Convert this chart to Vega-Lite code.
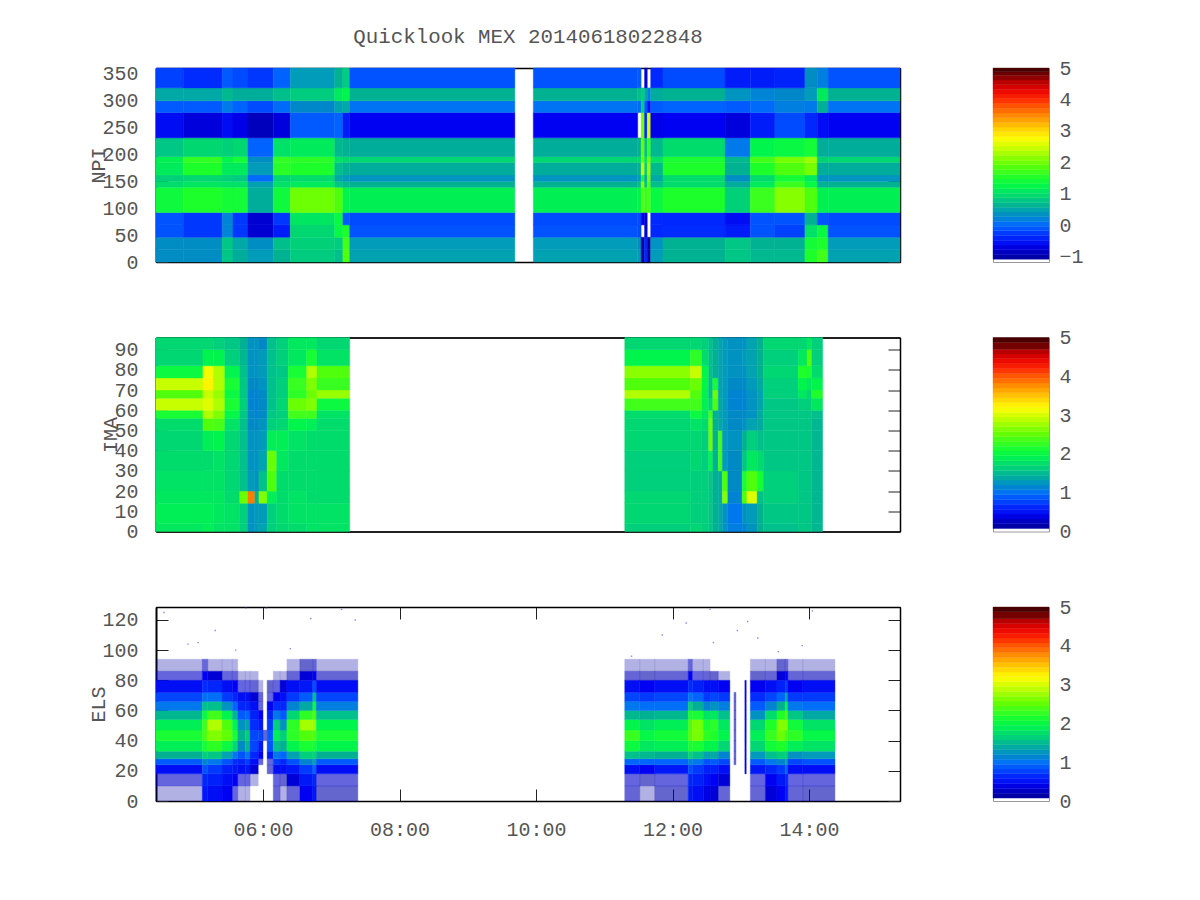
{"$schema":"https://vega.github.io/schema/vega-lite/v6.json","background":"white","padding":{"left":87,"top":25,"right":20,"bottom":20},"bounds":"flush","columns":2,"spacing":{"row":75.5,"column":93},"resolve":{"scale":{"color":"independent","stroke":"independent"}},
"config":{"view":{"stroke":"#000","strokeWidth":1},"font":"Liberation Mono","axis":{"grid":false,"labelFont":"Liberation Mono","titleFont":"Liberation Mono","labelFontSize":20,"titleFontSize":20,"titleFontWeight":"normal","labelColor":"#555","titleColor":"#555","domainColor":"#000","domainWidth":1.5,"tickColor":"#222","tickWidth":1,"tickSize":-12,"labelPadding":30,"zindex":1,"labelOverlap":false,"labelFlush":false},"title":{"font":"Liberation Mono","fontSize":20.8,"fontWeight":"normal","color":"#555"}},
"datasets":{
"npiC":[{"c":0,"t0":4.432,"t1":4.83},{"c":1,"t0":4.83,"t1":5.4},{"c":2,"t0":5.4,"t1":5.56},{"c":3,"t0":5.56,"t1":5.78},{"c":4,"t0":5.78,"t1":6.15},{"c":5,"t0":6.15,"t1":6.4},{"c":6,"t0":6.4,"t1":7.05},{"c":7,"t0":7.05,"t1":7.17},{"c":8,"t0":7.17,"t1":7.27},{"c":9,"t0":7.27,"t1":9.69},{"c":10,"t0":9.96,"t1":11.49},{"c":11,"t0":11.49,"t1":11.54},{"c":12,"t0":11.54,"t1":11.59},{"c":13,"t0":11.59,"t1":11.63},{"c":14,"t0":11.63,"t1":11.68},{"c":15,"t0":11.68,"t1":11.86},{"c":16,"t0":11.86,"t1":12.77},{"c":17,"t0":12.77,"t1":13.14},{"c":18,"t0":13.14,"t1":13.5},{"c":19,"t0":13.5,"t1":13.94},{"c":20,"t0":13.94,"t1":14.12},{"c":21,"t0":14.12,"t1":14.28},{"c":22,"t0":14.28,"t1":15.333}],
"npiB":[{"b":0,"y0":0,"y1":23},{"b":1,"y0":23,"y1":46},{"b":2,"y0":46,"y1":69},{"b":3,"y0":69,"y1":92},{"b":4,"y0":92,"y1":139},{"b":5,"y0":139,"y1":150},{"b":6,"y0":150,"y1":162},{"b":7,"y0":162,"y1":185},{"b":8,"y0":185,"y1":196},{"b":9,"y0":196,"y1":231},{"b":10,"y0":231,"y1":278},{"b":11,"y0":278,"y1":300},{"b":12,"y0":300,"y1":324},{"b":13,"y0":324,"y1":361}],
"npi":[
{"c":0,"b":0,"v":0.4},{"c":0,"b":1,"v":0.4},{"c":0,"b":2,"v":-0.05},{"c":0,"b":3,"v":-0.05},{"c":0,"b":4,"v":1.45},{"c":0,"b":5,"v":1.05},{"c":0,"b":6,"v":0.95},{"c":0,"b":7,"v":1.2},{"c":0,"b":8,"v":1.25},{"c":0,"b":9,"v":0.85},{"c":0,"b":10,"v":-0.5},{"c":0,"b":11,"v":0},{"c":0,"b":12,"v":0.6},{"c":0,"b":13,"v":-0.15},
{"c":1,"b":0,"v":0.4},{"c":1,"b":1,"v":0.4},{"c":1,"b":2,"v":-0.2},{"c":1,"b":3,"v":-0.2},{"c":1,"b":4,"v":1.6},{"c":1,"b":5,"v":1.15},{"c":1,"b":6,"v":1},{"c":1,"b":7,"v":1.6},{"c":1,"b":8,"v":1.7},{"c":1,"b":9,"v":1},{"c":1,"b":10,"v":-0.65},{"c":1,"b":11,"v":0},{"c":1,"b":12,"v":0.6},{"c":1,"b":13,"v":-0.25},
{"c":2,"b":0,"v":0.85},{"c":2,"b":1,"v":0.85},{"c":2,"b":2,"v":0.3},{"c":2,"b":3,"v":0.3},{"c":2,"b":4,"v":1.5},{"c":2,"b":5,"v":1.1},{"c":2,"b":6,"v":0.95},{"c":2,"b":7,"v":1.2},{"c":2,"b":8,"v":1.3},{"c":2,"b":9,"v":0.95},{"c":2,"b":10,"v":-0.5},{"c":2,"b":11,"v":0.2},{"c":2,"b":12,"v":0.75},{"c":2,"b":13,"v":0},
{"c":3,"b":0,"v":0.65},{"c":3,"b":1,"v":0.6},{"c":3,"b":2,"v":-0.2},{"c":3,"b":3,"v":-0.2},{"c":3,"b":4,"v":1.5},{"c":3,"b":5,"v":1.1},{"c":3,"b":6,"v":0.9},{"c":3,"b":7,"v":1.2},{"c":3,"b":8,"v":1.5},{"c":3,"b":9,"v":1},{"c":3,"b":10,"v":-0.6},{"c":3,"b":11,"v":0.05},{"c":3,"b":12,"v":0.65},{"c":3,"b":13,"v":-0.1},
{"c":4,"b":0,"v":0.5},{"c":4,"b":1,"v":0.4},{"c":4,"b":2,"v":-0.7},{"c":4,"b":3,"v":-0.7},{"c":4,"b":4,"v":0.65},{"c":4,"b":5,"v":0.55},{"c":4,"b":6,"v":0.1},{"c":4,"b":7,"v":0.5},{"c":4,"b":8,"v":0.4},{"c":4,"b":9,"v":0.05},{"c":4,"b":10,"v":-0.8},{"c":4,"b":11,"v":-0.1},{"c":4,"b":12,"v":0.65},{"c":4,"b":13,"v":-0.2},
{"c":5,"b":0,"v":0.7},{"c":5,"b":1,"v":0.8},{"c":5,"b":2,"v":-0.4},{"c":5,"b":3,"v":-0.2},{"c":5,"b":4,"v":1.45},{"c":5,"b":5,"v":1.1},{"c":5,"b":6,"v":1},{"c":5,"b":7,"v":1.65},{"c":5,"b":8,"v":1.7},{"c":5,"b":9,"v":1.1},{"c":5,"b":10,"v":-0.65},{"c":5,"b":11,"v":0.1},{"c":5,"b":12,"v":0.8},{"c":5,"b":13,"v":0.05},
{"c":6,"b":0,"v":0.9},{"c":6,"b":1,"v":0.95},{"c":6,"b":2,"v":1},{"c":6,"b":3,"v":1.15},{"c":6,"b":4,"v":2.05},{"c":6,"b":5,"v":1.2},{"c":6,"b":6,"v":1.05},{"c":6,"b":7,"v":1.6},{"c":6,"b":8,"v":1.65},{"c":6,"b":9,"v":1.2},{"c":6,"b":10,"v":0},{"c":6,"b":11,"v":0.35},{"c":6,"b":12,"v":0.9},{"c":6,"b":13,"v":0.5},
{"c":7,"b":0,"v":0.8},{"c":7,"b":1,"v":0.9},{"c":7,"b":2,"v":1.4},{"c":7,"b":3,"v":1.4},{"c":7,"b":4,"v":1.9},{"c":7,"b":5,"v":0.85},{"c":7,"b":6,"v":0.6},{"c":7,"b":7,"v":0.8},{"c":7,"b":8,"v":1.1},{"c":7,"b":9,"v":0.75},{"c":7,"b":10,"v":0.05},{"c":7,"b":11,"v":0.55},{"c":7,"b":12,"v":1.2},{"c":7,"b":13,"v":0.7},
{"c":8,"b":0,"v":1.9},{"c":8,"b":1,"v":1.8},{"c":8,"b":2,"v":1.6},{"c":8,"b":3,"v":0},{"c":8,"b":4,"v":1.3},{"c":8,"b":5,"v":0.75},{"c":8,"b":6,"v":0.5},{"c":8,"b":7,"v":0.7},{"c":8,"b":8,"v":1},{"c":8,"b":9,"v":0.7},{"c":8,"b":10,"v":-0.4},{"c":8,"b":11,"v":0.6},{"c":8,"b":12,"v":1.3},{"c":8,"b":13,"v":0.9},
{"c":9,"b":0,"v":0.55},{"c":9,"b":1,"v":0.5},{"c":9,"b":2,"v":-0.05},{"c":9,"b":3,"v":-0.1},{"c":9,"b":4,"v":1.25},{"c":9,"b":5,"v":0.7},{"c":9,"b":6,"v":0.45},{"c":9,"b":7,"v":0.65},{"c":9,"b":8,"v":1},{"c":9,"b":9,"v":0.65},{"c":9,"b":10,"v":-0.55},{"c":9,"b":11,"v":0.15},{"c":9,"b":12,"v":0.7},{"c":9,"b":13,"v":-0.05},
{"c":10,"b":0,"v":0.55},{"c":10,"b":1,"v":0.5},{"c":10,"b":2,"v":-0.05},{"c":10,"b":3,"v":-0.1},{"c":10,"b":4,"v":1.25},{"c":10,"b":5,"v":0.7},{"c":10,"b":6,"v":0.45},{"c":10,"b":7,"v":0.65},{"c":10,"b":8,"v":1},{"c":10,"b":9,"v":0.65},{"c":10,"b":10,"v":-0.55},{"c":10,"b":11,"v":0.15},{"c":10,"b":12,"v":0.7},{"c":10,"b":13,"v":-0.05},
{"c":11,"b":0,"v":0.5},{"c":11,"b":1,"v":0.4},{"c":11,"b":2,"v":-0.1},{"c":11,"b":3,"v":-0.1},{"c":11,"b":4,"v":1.3},{"c":11,"b":5,"v":0.8},{"c":11,"b":6,"v":0.5},{"c":11,"b":7,"v":0.7},{"c":11,"b":8,"v":1},{"c":11,"b":9,"v":0.7},{"c":11,"b":11,"v":0.1},{"c":11,"b":12,"v":0.8},{"c":11,"b":13,"v":0},
{"c":12,"b":0,"v":-0.9},{"c":12,"b":1,"v":-0.9},{"c":12,"b":3,"v":-0.6},{"c":12,"b":4,"v":1.9},{"c":12,"b":5,"v":2.2},{"c":12,"b":6,"v":1.5},{"c":12,"b":7,"v":2.5},{"c":12,"b":8,"v":2},{"c":12,"b":9,"v":2},{"c":12,"b":10,"v":2.1},{"c":12,"b":11,"v":0.9},{"c":12,"b":12,"v":0.9},
{"c":13,"b":0,"v":-0.3},{"c":13,"b":1,"v":-0.3},{"c":13,"b":2,"v":-0.7},{"c":13,"b":3,"v":-0.7},{"c":13,"b":4,"v":1.7},{"c":13,"b":5,"v":0.8},{"c":13,"b":6,"v":0.6},{"c":13,"b":7,"v":0.9},{"c":13,"b":8,"v":1.1},{"c":13,"b":9,"v":0.8},{"c":13,"b":10,"v":-0.3},{"c":13,"b":11,"v":0},{"c":13,"b":12,"v":0.6},{"c":13,"b":13,"v":-0.7},
{"c":14,"b":0,"v":-1},{"c":14,"b":1,"v":-1},{"c":14,"b":4,"v":1.9},{"c":14,"b":5,"v":1.9},{"c":14,"b":6,"v":2.1},{"c":14,"b":7,"v":2.3},{"c":14,"b":8,"v":2.1},{"c":14,"b":9,"v":1.7},{"c":14,"b":10,"v":2.6},{"c":14,"b":11,"v":-0.5},{"c":14,"b":12,"v":0.2},
{"c":15,"b":0,"v":0.5},{"c":15,"b":1,"v":0.45},{"c":15,"b":2,"v":-0.3},{"c":15,"b":3,"v":-0.3},{"c":15,"b":4,"v":1.4},{"c":15,"b":5,"v":0.8},{"c":15,"b":6,"v":0.6},{"c":15,"b":7,"v":0.75},{"c":15,"b":8,"v":1.1},{"c":15,"b":9,"v":0.75},{"c":15,"b":10,"v":-0.6},{"c":15,"b":11,"v":0},{"c":15,"b":12,"v":0.65},{"c":15,"b":13,"v":-0.3},
{"c":16,"b":0,"v":0.7},{"c":16,"b":1,"v":0.7},{"c":16,"b":2,"v":-0.25},{"c":16,"b":3,"v":-0.3},{"c":16,"b":4,"v":1.6},{"c":16,"b":5,"v":1.05},{"c":16,"b":6,"v":1.05},{"c":16,"b":7,"v":1.6},{"c":16,"b":8,"v":1.55},{"c":16,"b":9,"v":1.05},{"c":16,"b":10,"v":-0.55},{"c":16,"b":11,"v":0.05},{"c":16,"b":12,"v":0.7},{"c":16,"b":13,"v":-0.1},
{"c":17,"b":0,"v":0.85},{"c":17,"b":1,"v":0.85},{"c":17,"b":2,"v":-0.4},{"c":17,"b":3,"v":-0.5},{"c":17,"b":4,"v":0.95},{"c":17,"b":5,"v":0.65},{"c":17,"b":6,"v":0.4},{"c":17,"b":7,"v":0.7},{"c":17,"b":8,"v":0.75},{"c":17,"b":9,"v":0.2},{"c":17,"b":10,"v":-0.65},{"c":17,"b":11,"v":0},{"c":17,"b":12,"v":0.45},{"c":17,"b":13,"v":-0.4},
{"c":18,"b":0,"v":0.75},{"c":18,"b":1,"v":0.7},{"c":18,"b":2,"v":-0.05},{"c":18,"b":3,"v":-0.05},{"c":18,"b":4,"v":1.75},{"c":18,"b":5,"v":1.2},{"c":18,"b":6,"v":1.05},{"c":18,"b":7,"v":1.6},{"c":18,"b":8,"v":1.8},{"c":18,"b":9,"v":1.3},{"c":18,"b":10,"v":-0.4},{"c":18,"b":11,"v":0.1},{"c":18,"b":12,"v":0.3},{"c":18,"b":13,"v":-0.4},
{"c":19,"b":0,"v":0.75},{"c":19,"b":1,"v":0.7},{"c":19,"b":2,"v":-0.15},{"c":19,"b":3,"v":-0.05},{"c":19,"b":4,"v":2.2},{"c":19,"b":5,"v":1.75},{"c":19,"b":6,"v":1.5},{"c":19,"b":7,"v":1.9},{"c":19,"b":8,"v":2.1},{"c":19,"b":9,"v":1.4},{"c":19,"b":10,"v":-0.1},{"c":19,"b":11,"v":0.25},{"c":19,"b":12,"v":0.35},{"c":19,"b":13,"v":-0.35},
{"c":20,"b":0,"v":1.6},{"c":20,"b":1,"v":1.5},{"c":20,"b":2,"v":1.1},{"c":20,"b":3,"v":0.7},{"c":20,"b":4,"v":1.9},{"c":20,"b":5,"v":1.4},{"c":20,"b":6,"v":1.2},{"c":20,"b":7,"v":2.1},{"c":20,"b":8,"v":2.3},{"c":20,"b":9,"v":1.5},{"c":20,"b":10,"v":-0.3},{"c":20,"b":11,"v":0.2},{"c":20,"b":12,"v":0.5},{"c":20,"b":13,"v":0.4},
{"c":21,"b":0,"v":1.8},{"c":21,"b":1,"v":1.6},{"c":21,"b":2,"v":1.4},{"c":21,"b":3,"v":-0.05},{"c":21,"b":4,"v":1.25},{"c":21,"b":5,"v":0.7},{"c":21,"b":6,"v":0.45},{"c":21,"b":7,"v":0.65},{"c":21,"b":8,"v":0.95},{"c":21,"b":9,"v":0.65},{"c":21,"b":10,"v":-0.5},{"c":21,"b":11,"v":0.7},{"c":21,"b":12,"v":1.2},{"c":21,"b":13,"v":0.25},
{"c":22,"b":0,"v":0.55},{"c":22,"b":1,"v":0.5},{"c":22,"b":2,"v":-0.05},{"c":22,"b":3,"v":-0.1},{"c":22,"b":4,"v":1.25},{"c":22,"b":5,"v":0.7},{"c":22,"b":6,"v":0.45},{"c":22,"b":7,"v":0.65},{"c":22,"b":8,"v":1},{"c":22,"b":9,"v":0.65},{"c":22,"b":10,"v":-0.55},{"c":22,"b":11,"v":0.15},{"c":22,"b":12,"v":0.7},{"c":22,"b":13,"v":-0.05}],
"imaC":[{"c":0,"t0":4.432,"t1":5.12},{"c":1,"t0":5.12,"t1":5.27},{"c":2,"t0":5.27,"t1":5.44},{"c":3,"t0":5.44,"t1":5.66},{"c":4,"t0":5.66,"t1":5.78},{"c":5,"t0":5.78,"t1":5.88},{"c":6,"t0":5.88,"t1":5.94},{"c":7,"t0":5.94,"t1":6.06},{"c":8,"t0":6.06,"t1":6.2},{"c":9,"t0":6.2,"t1":6.37},{"c":10,"t0":6.37,"t1":6.64},{"c":11,"t0":6.64,"t1":6.79},{"c":12,"t0":6.79,"t1":7.27},{"c":13,"t0":11.3,"t1":12.26},{"c":14,"t0":12.26,"t1":12.43},{"c":15,"t0":12.43,"t1":12.53},{"c":16,"t0":12.53,"t1":12.59},{"c":17,"t0":12.59,"t1":12.67},{"c":18,"t0":12.67,"t1":12.73},{"c":19,"t0":12.73,"t1":12.81},{"c":20,"t0":12.81,"t1":13.02},{"c":21,"t0":13.02,"t1":13.09},{"c":22,"t0":13.09,"t1":13.24},{"c":23,"t0":13.24,"t1":13.33},{"c":24,"t0":13.33,"t1":13.84},{"c":25,"t0":13.84,"t1":13.97},{"c":26,"t0":13.97,"t1":14.04},{"c":27,"t0":14.04,"t1":14.2}],
"imaB":[{"b":0,"y0":0,"y1":4},{"b":1,"y0":4,"y1":14},{"b":2,"y0":14,"y1":20},{"b":3,"y0":20,"y1":30},{"b":4,"y0":30,"y1":40},{"b":5,"y0":40,"y1":50},{"b":6,"y0":50,"y1":56},{"b":7,"y0":56,"y1":60},{"b":8,"y0":60,"y1":66},{"b":9,"y0":66,"y1":70},{"b":10,"y0":70,"y1":76},{"b":11,"y0":76,"y1":82},{"b":12,"y0":82,"y1":90},{"b":13,"y0":90,"y1":96}],
"ima":[
{"c":0,"b":0,"v":1.9},{"c":0,"b":1,"v":1.95},{"c":0,"b":2,"v":1.9},{"c":0,"b":3,"v":1.85},{"c":0,"b":4,"v":1.8},{"c":0,"b":5,"v":1.75},{"c":0,"b":6,"v":1.8},{"c":0,"b":7,"v":2.2},{"c":0,"b":8,"v":3},{"c":0,"b":9,"v":2.5},{"c":0,"b":10,"v":3},{"c":0,"b":11,"v":2.1},{"c":0,"b":12,"v":1.75},{"c":0,"b":13,"v":1.75},
{"c":1,"b":0,"v":1.95},{"c":1,"b":1,"v":1.95},{"c":1,"b":2,"v":1.9},{"c":1,"b":3,"v":1.85},{"c":1,"b":4,"v":1.8},{"c":1,"b":5,"v":1.95},{"c":1,"b":6,"v":2.5},{"c":1,"b":7,"v":2.9},{"c":1,"b":8,"v":3.1},{"c":1,"b":9,"v":3},{"c":1,"b":10,"v":3.3},{"c":1,"b":11,"v":3.2},{"c":1,"b":12,"v":2},{"c":1,"b":13,"v":1.75},
{"c":2,"b":0,"v":1.85},{"c":2,"b":1,"v":1.9},{"c":2,"b":2,"v":1.9},{"c":2,"b":3,"v":1.85},{"c":2,"b":4,"v":1.85},{"c":2,"b":5,"v":2},{"c":2,"b":6,"v":2.45},{"c":2,"b":7,"v":2.7},{"c":2,"b":8,"v":2.9},{"c":2,"b":9,"v":2.8},{"c":2,"b":10,"v":2.9},{"c":2,"b":11,"v":2.9},{"c":2,"b":12,"v":2},{"c":2,"b":13,"v":1.7},
{"c":3,"b":0,"v":1.85},{"c":3,"b":1,"v":1.85},{"c":3,"b":2,"v":1.8},{"c":3,"b":3,"v":1.75},{"c":3,"b":4,"v":1.75},{"c":3,"b":5,"v":1.75},{"c":3,"b":6,"v":1.85},{"c":3,"b":7,"v":2.05},{"c":3,"b":8,"v":2.2},{"c":3,"b":9,"v":2.1},{"c":3,"b":10,"v":2.2},{"c":3,"b":11,"v":2},{"c":3,"b":12,"v":1.7},{"c":3,"b":13,"v":1.65},
{"c":4,"b":0,"v":1.7},{"c":4,"b":1,"v":1.7},{"c":4,"b":2,"v":2.6},{"c":4,"b":3,"v":1.6},{"c":4,"b":4,"v":1.6},{"c":4,"b":5,"v":1.6},{"c":4,"b":6,"v":1.6},{"c":4,"b":7,"v":1.65},{"c":4,"b":8,"v":1.7},{"c":4,"b":9,"v":1.65},{"c":4,"b":10,"v":1.65},{"c":4,"b":11,"v":1.6},{"c":4,"b":12,"v":1.55},{"c":4,"b":13,"v":1.5},
{"c":5,"b":0,"v":1.3},{"c":5,"b":1,"v":1.3},{"c":5,"b":2,"v":3.9},{"c":5,"b":3,"v":1.35},{"c":5,"b":4,"v":1.3},{"c":5,"b":5,"v":1.3},{"c":5,"b":6,"v":1.25},{"c":5,"b":7,"v":1.25},{"c":5,"b":8,"v":1.2},{"c":5,"b":9,"v":1.2},{"c":5,"b":10,"v":1.25},{"c":5,"b":11,"v":1.3},{"c":5,"b":12,"v":1.3},{"c":5,"b":13,"v":1.3},
{"c":6,"b":0,"v":1.35},{"c":6,"b":1,"v":1.35},{"c":6,"b":2,"v":1.5},{"c":6,"b":3,"v":1.3},{"c":6,"b":4,"v":1.3},{"c":6,"b":5,"v":1.3},{"c":6,"b":6,"v":1.25},{"c":6,"b":7,"v":1.2},{"c":6,"b":8,"v":1.2},{"c":6,"b":9,"v":1.2},{"c":6,"b":10,"v":1.25},{"c":6,"b":11,"v":1.3},{"c":6,"b":12,"v":1.3},{"c":6,"b":13,"v":1.3},
{"c":7,"b":0,"v":1.4},{"c":7,"b":1,"v":1.35},{"c":7,"b":2,"v":2.7},{"c":7,"b":3,"v":1.6},{"c":7,"b":4,"v":1.4},{"c":7,"b":5,"v":1.35},{"c":7,"b":6,"v":1.3},{"c":7,"b":7,"v":1.25},{"c":7,"b":8,"v":1.25},{"c":7,"b":9,"v":1.25},{"c":7,"b":10,"v":1.3},{"c":7,"b":11,"v":1.35},{"c":7,"b":12,"v":1.35},{"c":7,"b":13,"v":1.25},
{"c":8,"b":0,"v":1.7},{"c":8,"b":1,"v":1.7},{"c":8,"b":2,"v":1.95},{"c":8,"b":3,"v":2.5},{"c":8,"b":4,"v":2.6},{"c":8,"b":5,"v":1.95},{"c":8,"b":6,"v":1.7},{"c":8,"b":7,"v":1.65},{"c":8,"b":8,"v":1.6},{"c":8,"b":9,"v":1.6},{"c":8,"b":10,"v":1.6},{"c":8,"b":11,"v":1.6},{"c":8,"b":12,"v":1.6},{"c":8,"b":13,"v":1.6},
{"c":9,"b":0,"v":1.75},{"c":9,"b":1,"v":1.8},{"c":9,"b":2,"v":1.8},{"c":9,"b":3,"v":1.8},{"c":9,"b":4,"v":1.9},{"c":9,"b":5,"v":1.95},{"c":9,"b":6,"v":1.75},{"c":9,"b":7,"v":1.7},{"c":9,"b":8,"v":1.75},{"c":9,"b":9,"v":1.7},{"c":9,"b":10,"v":1.7},{"c":9,"b":11,"v":1.65},{"c":9,"b":12,"v":1.7},{"c":9,"b":13,"v":1.7},
{"c":10,"b":0,"v":1.8},{"c":10,"b":1,"v":1.85},{"c":10,"b":2,"v":1.85},{"c":10,"b":3,"v":1.8},{"c":10,"b":4,"v":1.8},{"c":10,"b":5,"v":1.85},{"c":10,"b":6,"v":2},{"c":10,"b":7,"v":2.4},{"c":10,"b":8,"v":2.6},{"c":10,"b":9,"v":2.3},{"c":10,"b":10,"v":2.35},{"c":10,"b":11,"v":2.2},{"c":10,"b":12,"v":1.9},{"c":10,"b":13,"v":1.9},
{"c":11,"b":0,"v":1.85},{"c":11,"b":1,"v":1.85},{"c":11,"b":2,"v":1.8},{"c":11,"b":3,"v":1.8},{"c":11,"b":4,"v":1.8},{"c":11,"b":5,"v":1.8},{"c":11,"b":6,"v":1.95},{"c":11,"b":7,"v":2.4},{"c":11,"b":8,"v":2.7},{"c":11,"b":9,"v":2.6},{"c":11,"b":10,"v":2.7},{"c":11,"b":11,"v":2.9},{"c":11,"b":12,"v":2.2},{"c":11,"b":13,"v":1.9},
{"c":12,"b":0,"v":1.85},{"c":12,"b":1,"v":1.85},{"c":12,"b":2,"v":1.8},{"c":12,"b":3,"v":1.8},{"c":12,"b":4,"v":1.8},{"c":12,"b":5,"v":1.8},{"c":12,"b":6,"v":1.8},{"c":12,"b":7,"v":1.85},{"c":12,"b":8,"v":2.1},{"c":12,"b":9,"v":2.8},{"c":12,"b":10,"v":2.35},{"c":12,"b":11,"v":2.5},{"c":12,"b":12,"v":1.85},{"c":12,"b":13,"v":1.75},
{"c":13,"b":0,"v":1.7},{"c":13,"b":1,"v":1.75},{"c":13,"b":2,"v":1.75},{"c":13,"b":3,"v":1.7},{"c":13,"b":4,"v":1.7},{"c":13,"b":5,"v":1.75},{"c":13,"b":6,"v":1.75},{"c":13,"b":7,"v":1.8},{"c":13,"b":8,"v":2.4},{"c":13,"b":9,"v":2.9},{"c":13,"b":10,"v":2.5},{"c":13,"b":11,"v":2.75},{"c":13,"b":12,"v":2},{"c":13,"b":13,"v":1.75},
{"c":14,"b":0,"v":1.75},{"c":14,"b":1,"v":1.7},{"c":14,"b":2,"v":1.7},{"c":14,"b":3,"v":1.7},{"c":14,"b":4,"v":1.75},{"c":14,"b":5,"v":1.75},{"c":14,"b":6,"v":1.85},{"c":14,"b":7,"v":2.1},{"c":14,"b":8,"v":2.4},{"c":14,"b":9,"v":2.5},{"c":14,"b":10,"v":2.6},{"c":14,"b":11,"v":3},{"c":14,"b":12,"v":2.3},{"c":14,"b":13,"v":1.75},
{"c":15,"b":0,"v":1.7},{"c":15,"b":1,"v":1.7},{"c":15,"b":2,"v":1.7},{"c":15,"b":3,"v":1.7},{"c":15,"b":4,"v":1.7},{"c":15,"b":5,"v":1.7},{"c":15,"b":6,"v":1.8},{"c":15,"b":7,"v":1.9},{"c":15,"b":8,"v":1.95},{"c":15,"b":9,"v":1.95},{"c":15,"b":10,"v":2},{"c":15,"b":11,"v":2},{"c":15,"b":12,"v":1.8},{"c":15,"b":13,"v":1.7},
{"c":16,"b":0,"v":1.65},{"c":16,"b":1,"v":1.65},{"c":16,"b":2,"v":1.65},{"c":16,"b":3,"v":1.65},{"c":16,"b":4,"v":2},{"c":16,"b":5,"v":2.6},{"c":16,"b":6,"v":2.6},{"c":16,"b":7,"v":2.4},{"c":16,"b":8,"v":1.75},{"c":16,"b":9,"v":1.6},{"c":16,"b":10,"v":1.6},{"c":16,"b":11,"v":1.6},{"c":16,"b":12,"v":1.6},{"c":16,"b":13,"v":1.6},
{"c":17,"b":0,"v":1.5},{"c":17,"b":1,"v":1.5},{"c":17,"b":2,"v":1.5},{"c":17,"b":3,"v":1.5},{"c":17,"b":4,"v":1.5},{"c":17,"b":5,"v":1.5},{"c":17,"b":6,"v":1.5},{"c":17,"b":7,"v":1.5},{"c":17,"b":8,"v":2.5},{"c":17,"b":9,"v":2.6},{"c":17,"b":10,"v":2.2},{"c":17,"b":11,"v":1.5},{"c":17,"b":12,"v":1.5},{"c":17,"b":13,"v":1.5},
{"c":18,"b":0,"v":1.45},{"c":18,"b":1,"v":1.45},{"c":18,"b":2,"v":1.45},{"c":18,"b":3,"v":1.45},{"c":18,"b":4,"v":2.4},{"c":18,"b":5,"v":2.4},{"c":18,"b":6,"v":1.45},{"c":18,"b":7,"v":1.4},{"c":18,"b":8,"v":1.45},{"c":18,"b":9,"v":1.4},{"c":18,"b":10,"v":1.4},{"c":18,"b":11,"v":1.4},{"c":18,"b":12,"v":1.4},{"c":18,"b":13,"v":1.4},
{"c":19,"b":0,"v":1.3},{"c":19,"b":1,"v":1.3},{"c":19,"b":2,"v":2.7},{"c":19,"b":3,"v":2.5},{"c":19,"b":4,"v":1.35},{"c":19,"b":5,"v":1.35},{"c":19,"b":6,"v":1.35},{"c":19,"b":7,"v":1.35},{"c":19,"b":8,"v":1.35},{"c":19,"b":9,"v":1.35},{"c":19,"b":10,"v":1.35},{"c":19,"b":11,"v":1.35},{"c":19,"b":12,"v":1.35},{"c":19,"b":13,"v":1.35},
{"c":20,"b":0,"v":1.15},{"c":20,"b":1,"v":1.1},{"c":20,"b":2,"v":1.2},{"c":20,"b":3,"v":1.25},{"c":20,"b":4,"v":1.25},{"c":20,"b":5,"v":1.3},{"c":20,"b":6,"v":1.25},{"c":20,"b":7,"v":1.25},{"c":20,"b":8,"v":1.2},{"c":20,"b":9,"v":1.2},{"c":20,"b":10,"v":1.25},{"c":20,"b":11,"v":1.3},{"c":20,"b":12,"v":1.3},{"c":20,"b":13,"v":1.3},
{"c":21,"b":0,"v":1.2},{"c":21,"b":1,"v":1.3},{"c":21,"b":2,"v":2.5},{"c":21,"b":3,"v":2.2},{"c":21,"b":4,"v":1.65},{"c":21,"b":5,"v":1.5},{"c":21,"b":6,"v":1.3},{"c":21,"b":7,"v":1.25},{"c":21,"b":8,"v":1.2},{"c":21,"b":9,"v":1.2},{"c":21,"b":10,"v":1.25},{"c":21,"b":11,"v":1.3},{"c":21,"b":12,"v":1.35},{"c":21,"b":13,"v":1.3},
{"c":22,"b":0,"v":1.3},{"c":22,"b":1,"v":1.35},{"c":22,"b":2,"v":3.1},{"c":22,"b":3,"v":2.5},{"c":22,"b":4,"v":1.9},{"c":22,"b":5,"v":1.7},{"c":22,"b":6,"v":1.4},{"c":22,"b":7,"v":1.3},{"c":22,"b":8,"v":1.3},{"c":22,"b":9,"v":1.3},{"c":22,"b":10,"v":1.35},{"c":22,"b":11,"v":1.4},{"c":22,"b":12,"v":1.4},{"c":22,"b":13,"v":1.4},
{"c":23,"b":0,"v":1.5},{"c":23,"b":1,"v":1.5},{"c":23,"b":2,"v":1.6},{"c":23,"b":3,"v":2.2},{"c":23,"b":4,"v":1.8},{"c":23,"b":5,"v":1.6},{"c":23,"b":6,"v":1.45},{"c":23,"b":7,"v":1.45},{"c":23,"b":8,"v":1.4},{"c":23,"b":9,"v":1.4},{"c":23,"b":10,"v":1.45},{"c":23,"b":11,"v":1.5},{"c":23,"b":12,"v":1.5},{"c":23,"b":13,"v":1.5},
{"c":24,"b":0,"v":1.6},{"c":24,"b":1,"v":1.65},{"c":24,"b":2,"v":1.7},{"c":24,"b":3,"v":1.7},{"c":24,"b":4,"v":1.65},{"c":24,"b":5,"v":1.65},{"c":24,"b":6,"v":1.65},{"c":24,"b":7,"v":1.65},{"c":24,"b":8,"v":1.65},{"c":24,"b":9,"v":1.7},{"c":24,"b":10,"v":1.7},{"c":24,"b":11,"v":1.75},{"c":24,"b":12,"v":1.7},{"c":24,"b":13,"v":1.75},
{"c":25,"b":0,"v":1.65},{"c":25,"b":1,"v":1.65},{"c":25,"b":2,"v":1.65},{"c":25,"b":3,"v":1.65},{"c":25,"b":4,"v":1.65},{"c":25,"b":5,"v":1.65},{"c":25,"b":6,"v":1.65},{"c":25,"b":7,"v":1.65},{"c":25,"b":8,"v":1.7},{"c":25,"b":9,"v":1.9},{"c":25,"b":10,"v":2},{"c":25,"b":11,"v":2.25},{"c":25,"b":12,"v":1.9},{"c":25,"b":13,"v":1.75},
{"c":26,"b":0,"v":1.65},{"c":26,"b":1,"v":1.65},{"c":26,"b":2,"v":1.65},{"c":26,"b":3,"v":1.65},{"c":26,"b":4,"v":1.65},{"c":26,"b":5,"v":1.65},{"c":26,"b":6,"v":1.65},{"c":26,"b":7,"v":1.65},{"c":26,"b":8,"v":1.7},{"c":26,"b":9,"v":1.75},{"c":26,"b":10,"v":1.9},{"c":26,"b":11,"v":2.2},{"c":26,"b":12,"v":2.5},{"c":26,"b":13,"v":1.9},
{"c":27,"b":0,"v":1.55},{"c":27,"b":1,"v":1.55},{"c":27,"b":2,"v":1.55},{"c":27,"b":3,"v":1.55},{"c":27,"b":4,"v":1.55},{"c":27,"b":5,"v":1.55},{"c":27,"b":6,"v":1.55},{"c":27,"b":7,"v":1.6},{"c":27,"b":8,"v":1.9},{"c":27,"b":9,"v":2.25},{"c":27,"b":10,"v":2},{"c":27,"b":11,"v":1.8},{"c":27,"b":12,"v":1.7},{"c":27,"b":13,"v":1.7}],
"elsC":[{"c":0,"t0":4.432,"t1":5.11},{"c":1,"t0":5.11,"t1":5.19},{"c":2,"t0":5.19,"t1":5.4},{"c":3,"t0":5.4,"t1":5.55},{"c":4,"t0":5.55,"t1":5.63},{"c":5,"t0":5.63,"t1":5.74},{"c":6,"t0":5.74,"t1":5.81},{"c":7,"t0":5.81,"t1":5.93},{"c":8,"t0":5.93,"t1":6},{"c":9,"t0":6,"t1":6.06},{"c":10,"t0":6.06,"t1":6.15},{"c":11,"t0":6.15,"t1":6.25},{"c":12,"t0":6.25,"t1":6.35},{"c":13,"t0":6.35,"t1":6.54},{"c":14,"t0":6.54,"t1":6.73},{"c":15,"t0":6.73,"t1":6.78},{"c":16,"t0":6.78,"t1":7.39},{"c":17,"t0":11.3,"t1":11.52},{"c":18,"t0":11.52,"t1":11.74},{"c":19,"t0":11.74,"t1":12.23},{"c":20,"t0":12.23,"t1":12.29},{"c":21,"t0":12.29,"t1":12.45},{"c":22,"t0":12.45,"t1":12.55},{"c":23,"t0":12.55,"t1":12.67},{"c":24,"t0":12.67,"t1":12.84},{"c":25,"t0":12.9,"t1":12.93},{"c":26,"t0":13.06,"t1":13.08},{"c":27,"t0":13.14,"t1":13.36},{"c":28,"t0":13.36,"t1":13.53},{"c":29,"t0":13.53,"t1":13.65},{"c":30,"t0":13.65,"t1":13.69},{"c":31,"t0":13.69,"t1":13.91},{"c":32,"t0":13.91,"t1":14.38}],
"elsB":[{"b":0,"y0":0,"y1":10},{"b":1,"y0":10,"y1":18},{"b":2,"y0":18,"y1":24},{"b":3,"y0":24,"y1":28},{"b":4,"y0":28,"y1":33},{"b":5,"y0":33,"y1":40},{"b":6,"y0":40,"y1":47},{"b":7,"y0":47,"y1":54},{"b":8,"y0":54,"y1":60},{"b":9,"y0":60,"y1":66},{"b":10,"y0":66,"y1":72},{"b":11,"y0":72,"y1":80},{"b":12,"y0":80,"y1":86},{"b":13,"y0":86,"y1":94}],
"els":[
{"c":0,"b":0,"v":0.2},{"c":0,"b":1,"v":0.35},{"c":0,"b":2,"v":0.55},{"c":0,"b":3,"v":0.95},{"c":0,"b":4,"v":1.5},{"c":0,"b":5,"v":1.95},{"c":0,"b":6,"v":2.2},{"c":0,"b":7,"v":1.95},{"c":0,"b":8,"v":1.55},{"c":0,"b":9,"v":1.1},{"c":0,"b":10,"v":0.85},{"c":0,"b":11,"v":0.55},{"c":0,"b":12,"v":0.35},{"c":0,"b":13,"v":0.2},
{"c":1,"b":0,"v":0.6},{"c":1,"b":1,"v":0.7},{"c":1,"b":2,"v":0.9},{"c":1,"b":3,"v":1.2},{"c":1,"b":4,"v":1.7},{"c":1,"b":5,"v":2.2},{"c":1,"b":6,"v":2.45},{"c":1,"b":7,"v":2.4},{"c":1,"b":8,"v":2.1},{"c":1,"b":9,"v":1.6},{"c":1,"b":10,"v":1.05},{"c":1,"b":11,"v":0.75},{"c":1,"b":12,"v":0.5},{"c":1,"b":13,"v":0.35},
{"c":2,"b":0,"v":0.55},{"c":2,"b":1,"v":0.65},{"c":2,"b":2,"v":0.8},{"c":2,"b":3,"v":1.1},{"c":2,"b":4,"v":1.65},{"c":2,"b":5,"v":2.3},{"c":2,"b":6,"v":2.7},{"c":2,"b":7,"v":2.9},{"c":2,"b":8,"v":2.4},{"c":2,"b":9,"v":1.6},{"c":2,"b":10,"v":1.05},{"c":2,"b":11,"v":0.7},{"c":2,"b":12,"v":0.4},{"c":2,"b":13,"v":0.2},
{"c":3,"b":0,"v":0.5},{"c":3,"b":1,"v":0.55},{"c":3,"b":2,"v":0.65},{"c":3,"b":3,"v":0.9},{"c":3,"b":4,"v":1.4},{"c":3,"b":5,"v":2.1},{"c":3,"b":6,"v":2.55},{"c":3,"b":7,"v":2.5},{"c":3,"b":8,"v":2},{"c":3,"b":9,"v":1.3},{"c":3,"b":10,"v":0.8},{"c":3,"b":11,"v":0.55},{"c":3,"b":12,"v":0.35},{"c":3,"b":13,"v":0.2},
{"c":4,"b":0,"v":0.35},{"c":4,"b":1,"v":0.5},{"c":4,"b":2,"v":0.6},{"c":4,"b":3,"v":0.75},{"c":4,"b":4,"v":1.1},{"c":4,"b":5,"v":1.8},{"c":4,"b":6,"v":2.2},{"c":4,"b":7,"v":2},{"c":4,"b":8,"v":1.55},{"c":4,"b":9,"v":1},{"c":4,"b":10,"v":0.7},{"c":4,"b":11,"v":0.5},{"c":4,"b":12,"v":0.3},{"c":4,"b":13,"v":0.2},
{"c":5,"b":0,"v":0.2},{"c":5,"b":1,"v":0.35},{"c":5,"b":2,"v":0.55},{"c":5,"b":3,"v":0.7},{"c":5,"b":4,"v":0.9},{"c":5,"b":5,"v":1.25},{"c":5,"b":6,"v":1.5},{"c":5,"b":7,"v":1.3},{"c":5,"b":8,"v":0.95},{"c":5,"b":9,"v":0.7},{"c":5,"b":10,"v":0.55},{"c":5,"b":11,"v":0.35},{"c":5,"b":12,"v":0.2},
{"c":6,"b":0,"v":0.2},{"c":6,"b":1,"v":0.35},{"c":6,"b":2,"v":0.6},{"c":6,"b":3,"v":0.8},{"c":6,"b":4,"v":1.1},{"c":6,"b":5,"v":1.55},{"c":6,"b":6,"v":1.7},{"c":6,"b":7,"v":1.4},{"c":6,"b":8,"v":1},{"c":6,"b":9,"v":0.7},{"c":6,"b":10,"v":0.55},{"c":6,"b":11,"v":0.35},{"c":6,"b":12,"v":0.2},
{"c":7,"b":1,"v":0.2},{"c":7,"b":2,"v":0.4},{"c":7,"b":3,"v":0.55},{"c":7,"b":4,"v":0.7},{"c":7,"b":5,"v":0.85},{"c":7,"b":6,"v":0.85},{"c":7,"b":7,"v":0.75},{"c":7,"b":8,"v":0.65},{"c":7,"b":9,"v":0.55},{"c":7,"b":10,"v":0.4},{"c":7,"b":11,"v":0.3},{"c":7,"b":12,"v":0.2},
{"c":8,"b":3,"v":0.35},{"c":8,"b":4,"v":0.5},{"c":8,"b":5,"v":0.6},{"c":8,"b":6,"v":0.85},{"c":8,"b":7,"v":0.6},{"c":8,"b":8,"v":0.5},{"c":8,"b":9,"v":0.35},{"c":8,"b":10,"v":0.3},{"c":8,"b":11,"v":0.2},
{"c":9,"b":6,"v":0.3},
{"c":10,"b":2,"v":0.3},{"c":10,"b":3,"v":0.35},{"c":10,"b":4,"v":0.6},{"c":10,"b":5,"v":0.9},{"c":10,"b":6,"v":0.95},{"c":10,"b":7,"v":0.8},{"c":10,"b":8,"v":0.65},{"c":10,"b":9,"v":0.5},{"c":10,"b":10,"v":0.35},{"c":10,"b":11,"v":0.25},
{"c":11,"b":0,"v":0.3},{"c":11,"b":1,"v":0.35},{"c":11,"b":2,"v":0.55},{"c":11,"b":3,"v":0.8},{"c":11,"b":4,"v":1.1},{"c":11,"b":5,"v":1.6},{"c":11,"b":6,"v":1.95},{"c":11,"b":7,"v":1.7},{"c":11,"b":8,"v":1.1},{"c":11,"b":9,"v":0.75},{"c":11,"b":10,"v":0.5},{"c":11,"b":11,"v":0.35},{"c":11,"b":12,"v":0.2},
{"c":12,"b":0,"v":0.2},{"c":12,"b":1,"v":0.25},{"c":12,"b":2,"v":0.55},{"c":12,"b":3,"v":0.7},{"c":12,"b":4,"v":1},{"c":12,"b":5,"v":1.5},{"c":12,"b":6,"v":1.7},{"c":12,"b":7,"v":1.3},{"c":12,"b":8,"v":0.95},{"c":12,"b":9,"v":0.7},{"c":12,"b":10,"v":0.55},{"c":12,"b":11,"v":0.4},{"c":12,"b":12,"v":0.2},
{"c":13,"b":0,"v":0.3},{"c":13,"b":1,"v":0.4},{"c":13,"b":2,"v":0.6},{"c":13,"b":3,"v":0.9},{"c":13,"b":4,"v":1.4},{"c":13,"b":5,"v":2},{"c":13,"b":6,"v":2.3},{"c":13,"b":7,"v":2.3},{"c":13,"b":8,"v":1.75},{"c":13,"b":9,"v":1.2},{"c":13,"b":10,"v":0.8},{"c":13,"b":11,"v":0.55},{"c":13,"b":12,"v":0.3},{"c":13,"b":13,"v":0.2},
{"c":14,"b":0,"v":0.5},{"c":14,"b":1,"v":0.6},{"c":14,"b":2,"v":0.8},{"c":14,"b":3,"v":1.2},{"c":14,"b":4,"v":1.7},{"c":14,"b":5,"v":2.2},{"c":14,"b":6,"v":2.5},{"c":14,"b":7,"v":2.85},{"c":14,"b":8,"v":2.3},{"c":14,"b":9,"v":1.45},{"c":14,"b":10,"v":0.95},{"c":14,"b":11,"v":0.6},{"c":14,"b":12,"v":0.4},{"c":14,"b":13,"v":0.25},
{"c":15,"b":0,"v":0.6},{"c":15,"b":1,"v":0.7},{"c":15,"b":2,"v":1},{"c":15,"b":3,"v":1.4},{"c":15,"b":4,"v":1.75},{"c":15,"b":5,"v":2.2},{"c":15,"b":6,"v":2.5},{"c":15,"b":7,"v":2.8},{"c":15,"b":8,"v":2.5},{"c":15,"b":9,"v":2.1},{"c":15,"b":10,"v":1.6},{"c":15,"b":11,"v":0.9},{"c":15,"b":12,"v":0.5},{"c":15,"b":13,"v":0.3},
{"c":16,"b":0,"v":0.25},{"c":16,"b":1,"v":0.35},{"c":16,"b":2,"v":0.55},{"c":16,"b":3,"v":0.95},{"c":16,"b":4,"v":1.5},{"c":16,"b":5,"v":2},{"c":16,"b":6,"v":2.2},{"c":16,"b":7,"v":2},{"c":16,"b":8,"v":1.6},{"c":16,"b":9,"v":1.15},{"c":16,"b":10,"v":0.85},{"c":16,"b":11,"v":0.55},{"c":16,"b":12,"v":0.3},{"c":16,"b":13,"v":0.2},
{"c":17,"b":0,"v":0.3},{"c":17,"b":1,"v":0.35},{"c":17,"b":2,"v":0.55},{"c":17,"b":3,"v":1},{"c":17,"b":4,"v":1.6},{"c":17,"b":5,"v":2.1},{"c":17,"b":6,"v":2.35},{"c":17,"b":7,"v":2},{"c":17,"b":8,"v":1.55},{"c":17,"b":9,"v":1.1},{"c":17,"b":10,"v":0.85},{"c":17,"b":11,"v":0.55},{"c":17,"b":12,"v":0.3},{"c":17,"b":13,"v":0.2},
{"c":18,"b":0,"v":0.2},{"c":18,"b":1,"v":0.25},{"c":18,"b":2,"v":0.5},{"c":18,"b":3,"v":1},{"c":18,"b":4,"v":1.55},{"c":18,"b":5,"v":1.9},{"c":18,"b":6,"v":2.05},{"c":18,"b":7,"v":1.85},{"c":18,"b":8,"v":1.5},{"c":18,"b":9,"v":1.05},{"c":18,"b":10,"v":0.8},{"c":18,"b":11,"v":0.5},{"c":18,"b":12,"v":0.25},{"c":18,"b":13,"v":0.2},
{"c":19,"b":0,"v":0.25},{"c":19,"b":1,"v":0.35},{"c":19,"b":2,"v":0.6},{"c":19,"b":3,"v":1},{"c":19,"b":4,"v":1.5},{"c":19,"b":5,"v":1.95},{"c":19,"b":6,"v":2.15},{"c":19,"b":7,"v":1.95},{"c":19,"b":8,"v":1.55},{"c":19,"b":9,"v":1.05},{"c":19,"b":10,"v":0.85},{"c":19,"b":11,"v":0.55},{"c":19,"b":12,"v":0.3},{"c":19,"b":13,"v":0.2},
{"c":20,"b":0,"v":0.6},{"c":20,"b":1,"v":0.7},{"c":20,"b":2,"v":0.9},{"c":20,"b":3,"v":1.2},{"c":20,"b":4,"v":1.75},{"c":20,"b":5,"v":2.2},{"c":20,"b":6,"v":2.5},{"c":20,"b":7,"v":2.45},{"c":20,"b":8,"v":2.2},{"c":20,"b":9,"v":1.7},{"c":20,"b":10,"v":1.1},{"c":20,"b":11,"v":0.75},{"c":20,"b":12,"v":0.5},{"c":20,"b":13,"v":0.35},
{"c":21,"b":0,"v":0.55},{"c":21,"b":1,"v":0.65},{"c":21,"b":2,"v":0.8},{"c":21,"b":3,"v":1.1},{"c":21,"b":4,"v":1.6},{"c":21,"b":5,"v":2.2},{"c":21,"b":6,"v":2.65},{"c":21,"b":7,"v":2.65},{"c":21,"b":8,"v":2.2},{"c":21,"b":9,"v":1.5},{"c":21,"b":10,"v":1},{"c":21,"b":11,"v":0.65},{"c":21,"b":12,"v":0.35},{"c":21,"b":13,"v":0.2},
{"c":22,"b":0,"v":0.45},{"c":22,"b":1,"v":0.55},{"c":22,"b":2,"v":0.65},{"c":22,"b":3,"v":0.9},{"c":22,"b":4,"v":1.4},{"c":22,"b":5,"v":2},{"c":22,"b":6,"v":2.3},{"c":22,"b":7,"v":2.2},{"c":22,"b":8,"v":1.85},{"c":22,"b":9,"v":1.2},{"c":22,"b":10,"v":0.8},{"c":22,"b":11,"v":0.55},{"c":22,"b":12,"v":0.3},{"c":22,"b":13,"v":0.2},
{"c":23,"b":0,"v":0.4},{"c":23,"b":1,"v":0.5},{"c":23,"b":2,"v":0.65},{"c":23,"b":3,"v":0.95},{"c":23,"b":4,"v":1.45},{"c":23,"b":5,"v":2},{"c":23,"b":6,"v":2.25},{"c":23,"b":7,"v":2.3},{"c":23,"b":8,"v":1.9},{"c":23,"b":9,"v":1.3},{"c":23,"b":10,"v":0.85},{"c":23,"b":11,"v":0.55},{"c":23,"b":12,"v":0.25},
{"c":24,"b":0,"v":0.3},{"c":24,"b":1,"v":0.4},{"c":24,"b":2,"v":0.55},{"c":24,"b":3,"v":0.85},{"c":24,"b":4,"v":1.2},{"c":24,"b":5,"v":1.75},{"c":24,"b":6,"v":2},{"c":24,"b":7,"v":1.9},{"c":24,"b":8,"v":1.6},{"c":24,"b":9,"v":1.15},{"c":24,"b":10,"v":0.8},{"c":24,"b":11,"v":0.5},{"c":24,"b":12,"v":0.2},
{"c":25,"b":3,"v":0.3},{"c":25,"b":4,"v":0.3},{"c":25,"b":5,"v":0.3},{"c":25,"b":6,"v":0.3},{"c":25,"b":7,"v":0.3},{"c":25,"b":8,"v":0.3},{"c":25,"b":9,"v":0.3},{"c":25,"b":10,"v":0.3},
{"c":26,"b":2,"v":0.5},{"c":26,"b":3,"v":0.5},{"c":26,"b":4,"v":0.5},{"c":26,"b":5,"v":0.5},{"c":26,"b":6,"v":0.5},{"c":26,"b":7,"v":0.5},{"c":26,"b":8,"v":0.5},{"c":26,"b":9,"v":0.5},{"c":26,"b":10,"v":0.5},{"c":26,"b":11,"v":0.5},
{"c":27,"b":0,"v":0.3},{"c":27,"b":1,"v":0.35},{"c":27,"b":2,"v":0.6},{"c":27,"b":3,"v":0.95},{"c":27,"b":4,"v":1.35},{"c":27,"b":5,"v":1.75},{"c":27,"b":6,"v":1.95},{"c":27,"b":7,"v":1.75},{"c":27,"b":8,"v":1.3},{"c":27,"b":9,"v":0.95},{"c":27,"b":10,"v":0.75},{"c":27,"b":11,"v":0.5},{"c":27,"b":12,"v":0.25},{"c":27,"b":13,"v":0.2},
{"c":28,"b":0,"v":0.4},{"c":28,"b":1,"v":0.5},{"c":28,"b":2,"v":0.7},{"c":28,"b":3,"v":1.1},{"c":28,"b":4,"v":1.6},{"c":28,"b":5,"v":2.15},{"c":28,"b":6,"v":2.35},{"c":28,"b":7,"v":2.25},{"c":28,"b":8,"v":1.8},{"c":28,"b":9,"v":1.2},{"c":28,"b":10,"v":0.85},{"c":28,"b":11,"v":0.55},{"c":28,"b":12,"v":0.3},{"c":28,"b":13,"v":0.2},
{"c":29,"b":0,"v":0.5},{"c":29,"b":1,"v":0.6},{"c":29,"b":2,"v":0.8},{"c":29,"b":3,"v":1.2},{"c":29,"b":4,"v":1.7},{"c":29,"b":5,"v":2.25},{"c":29,"b":6,"v":2.6},{"c":29,"b":7,"v":2.7},{"c":29,"b":8,"v":2.25},{"c":29,"b":9,"v":1.5},{"c":29,"b":10,"v":1},{"c":29,"b":11,"v":0.65},{"c":29,"b":12,"v":0.4},{"c":29,"b":13,"v":0.25},
{"c":30,"b":0,"v":0.6},{"c":30,"b":1,"v":0.7},{"c":30,"b":2,"v":1},{"c":30,"b":3,"v":1.4},{"c":30,"b":4,"v":1.7},{"c":30,"b":5,"v":2.15},{"c":30,"b":6,"v":2.4},{"c":30,"b":7,"v":2.7},{"c":30,"b":8,"v":2.5},{"c":30,"b":9,"v":2},{"c":30,"b":10,"v":1.4},{"c":30,"b":11,"v":0.8},{"c":30,"b":12,"v":0.5},{"c":30,"b":13,"v":0.3},
{"c":31,"b":0,"v":0.3},{"c":31,"b":1,"v":0.35},{"c":31,"b":2,"v":0.55},{"c":31,"b":3,"v":0.85},{"c":31,"b":4,"v":1.3},{"c":31,"b":5,"v":1.95},{"c":31,"b":6,"v":2.3},{"c":31,"b":7,"v":2.15},{"c":31,"b":8,"v":1.65},{"c":31,"b":9,"v":1.1},{"c":31,"b":10,"v":0.8},{"c":31,"b":11,"v":0.5},{"c":31,"b":12,"v":0.3},{"c":31,"b":13,"v":0.2},
{"c":32,"b":0,"v":0.25},{"c":32,"b":1,"v":0.35},{"c":32,"b":2,"v":0.55},{"c":32,"b":3,"v":0.9},{"c":32,"b":4,"v":1.35},{"c":32,"b":5,"v":1.85},{"c":32,"b":6,"v":2.05},{"c":32,"b":7,"v":1.85},{"c":32,"b":8,"v":1.45},{"c":32,"b":9,"v":1.05},{"c":32,"b":10,"v":0.8},{"c":32,"b":11,"v":0.55},{"c":32,"b":12,"v":0.3},{"c":32,"b":13,"v":0.2}],
"specks":[{"t":4.55,"y":125},{"t":5.05,"y":105},{"t":5.3,"y":113},{"t":5.6,"y":100},{"t":5.75,"y":128},{"t":6.05,"y":128},{"t":6.7,"y":121},{"t":7.15,"y":127},{"t":7.35,"y":120},{"t":4.9,"y":104},{"t":6.4,"y":101},{"t":11.4,"y":96},{"t":12.2,"y":118},{"t":12.55,"y":127},{"t":12.95,"y":113},{"t":13.1,"y":119},{"t":13.25,"y":108},{"t":13.55,"y":99},{"t":14.05,"y":126},{"t":12.6,"y":105},{"t":11.85,"y":110},{"t":13.9,"y":103}],
"mirror":[{"t":6,"y":0}],
"barN":[{"a":-1.08,"b":-0.93},{"a":-0.93,"b":-0.78},{"a":-0.78,"b":-0.63},{"a":-0.63,"b":-0.48},{"a":-0.48,"b":-0.33},{"a":-0.33,"b":-0.18},{"a":-0.18,"b":-0.03},{"a":-0.03,"b":0.12},{"a":0.12,"b":0.27},{"a":0.27,"b":0.42},{"a":0.42,"b":0.57},{"a":0.57,"b":0.72},{"a":0.72,"b":0.87},{"a":0.87,"b":1.02},{"a":1.02,"b":1.17},{"a":1.17,"b":1.32},{"a":1.32,"b":1.47},{"a":1.47,"b":1.62},{"a":1.62,"b":1.77},{"a":1.77,"b":1.92},{"a":1.92,"b":2.07},{"a":2.07,"b":2.22},{"a":2.22,"b":2.37},{"a":2.37,"b":2.52},{"a":2.52,"b":2.67},{"a":2.67,"b":2.82},{"a":2.82,"b":2.97},{"a":2.97,"b":3.12},{"a":3.12,"b":3.27},{"a":3.27,"b":3.42},{"a":3.42,"b":3.57},{"a":3.57,"b":3.72},{"a":3.72,"b":3.87},{"a":3.87,"b":4.02},{"a":4.02,"b":4.17},{"a":4.17,"b":4.32},{"a":4.32,"b":4.47},{"a":4.47,"b":4.62},{"a":4.62,"b":4.77},{"a":4.77,"b":4.88},{"a":4.88,"b":5}],
"bar5":[{"a":0.075,"b":0.2},{"a":0.2,"b":0.325},{"a":0.325,"b":0.45},{"a":0.45,"b":0.575},{"a":0.575,"b":0.7},{"a":0.7,"b":0.825},{"a":0.825,"b":0.95},{"a":0.95,"b":1.075},{"a":1.075,"b":1.2},{"a":1.2,"b":1.325},{"a":1.325,"b":1.45},{"a":1.45,"b":1.575},{"a":1.575,"b":1.7},{"a":1.7,"b":1.825},{"a":1.825,"b":1.95},{"a":1.95,"b":2.075},{"a":2.075,"b":2.2},{"a":2.2,"b":2.325},{"a":2.325,"b":2.45},{"a":2.45,"b":2.575},{"a":2.575,"b":2.7},{"a":2.7,"b":2.825},{"a":2.825,"b":2.95},{"a":2.95,"b":3.075},{"a":3.075,"b":3.2},{"a":3.2,"b":3.325},{"a":3.325,"b":3.45},{"a":3.45,"b":3.575},{"a":3.575,"b":3.7},{"a":3.7,"b":3.825},{"a":3.825,"b":3.95},{"a":3.95,"b":4.075},{"a":4.075,"b":4.2},{"a":4.2,"b":4.325},{"a":4.325,"b":4.45},{"a":4.45,"b":4.575},{"a":4.575,"b":4.7},{"a":4.7,"b":4.88},{"a":4.88,"b":5}]
},
"concat":[
{"width":744,"height":194,"title":{"text":"Quicklook MEX 20140618022848","anchor":"middle","offset":16},"resolve":{"axis":{"x":"independent","y":"independent"}},"layer":[
{"data":{"name":"npi"},"transform":[{"lookup":"c","from":{"data":{"name":"npiC"},"key":"c","fields":["t0","t1"]}},{"lookup":"b","from":{"data":{"name":"npiB"},"key":"b","fields":["y0","y1"]}}],"mark":{"type":"rect","strokeWidth":0.4},"encoding":{
"x":{"field":"t0","type":"quantitative","scale":{"domain":[4.432,15.333],"nice":false,"zero":false},"axis":{"orient":"bottom","values":[],"title":null,"labels":false}},"x2":{"field":"t1"},
"y":{"field":"y0","type":"quantitative","scale":{"domain":[0,361],"nice":false},"axis":{"orient":"left","values":[0,50,100,150,200,250,300,350],"title":"NPI","titleX":-58,"titleY":97,"titleAngle":-90,"titleAlign":"center","titleBaseline":"middle","domainWidth":2}},"y2":{"field":"y1"},
"color":{"field":"v","type":"quantitative","legend":null,"scale":{"clamp":true,"domain":[-1.17,5],"range":["#000080","#0000af","#0000f2","#002cff","#0064ff","#0089c4","#00b093","#00d671","#00f54c","#1eff2a","#50ff0c","#89ff00","#c7ff00","#fffc00","#ffd000","#ff9c00","#ff6400","#ff2500","#e80000","#ad0000","#000000"]}},
"stroke":{"field":"v","type":"quantitative","legend":null,"scale":{"clamp":true,"domain":[-1.17,5],"range":["#000080","#0000af","#0000f2","#002cff","#0064ff","#0089c4","#00b093","#00d671","#00f54c","#1eff2a","#50ff0c","#89ff00","#c7ff00","#fffc00","#ffd000","#ff9c00","#ff6400","#ff2500","#e80000","#ad0000","#000000"]}}}},
{"data":{"name":"mirror"},"mark":{"type":"point","opacity":0},"encoding":{"x":{"field":"t","type":"quantitative","scale":{"domain":[4.432,15.333],"nice":false,"zero":false},"axis":{"orient":"top","values":[],"title":null,"labels":false}},"y":{"field":"y","type":"quantitative","scale":{"domain":[0,361],"nice":false},"axis":{"orient":"right","values":[0,50,100,150,200,250,300,350],"title":null,"labels":false}}}}]},
{"width":56,"height":194,"data":{"name":"barN"},"mark":{"type":"rect","strokeWidth":0.4},"view":{"stroke":"#999"},"encoding":{"y":{"field":"a","type":"quantitative","scale":{"domain":[-1.17,5],"nice":false,"zero":false},"axis":{"orient":"right","values":[-1,0,1,2,3,4,5],"title":null,"ticks":false,"domain":false,"labelPadding":10}},"y2":{"field":"b"},
"color":{"field":"b","type":"quantitative","legend":null,"scale":{"clamp":true,"domain":[-1.17,5],"range":["#000080","#0000af","#0000f2","#002cff","#0064ff","#0089c4","#00b093","#00d671","#00f54c","#1eff2a","#50ff0c","#89ff00","#c7ff00","#fffc00","#ffd000","#ff9c00","#ff6400","#ff2500","#e80000","#ad0000","#000000"]}},
"stroke":{"field":"b","type":"quantitative","legend":null,"scale":{"clamp":true,"domain":[-1.17,5],"range":["#000080","#0000af","#0000f2","#002cff","#0064ff","#0089c4","#00b093","#00d671","#00f54c","#1eff2a","#50ff0c","#89ff00","#c7ff00","#fffc00","#ffd000","#ff9c00","#ff6400","#ff2500","#e80000","#ad0000","#000000"]}}}},
{"width":744,"height":194,"resolve":{"axis":{"x":"independent","y":"independent"}},"layer":[
{"data":{"name":"ima"},"transform":[{"lookup":"c","from":{"data":{"name":"imaC"},"key":"c","fields":["t0","t1"]}},{"lookup":"b","from":{"data":{"name":"imaB"},"key":"b","fields":["y0","y1"]}}],"mark":{"type":"rect","strokeWidth":0.4},"encoding":{
"x":{"field":"t0","type":"quantitative","scale":{"domain":[4.432,15.333],"nice":false,"zero":false},"axis":{"orient":"bottom","values":[],"title":null,"labels":false}},"x2":{"field":"t1"},
"y":{"field":"y0","type":"quantitative","scale":{"domain":[0,96],"nice":false},"axis":{"orient":"left","values":[0,10,20,30,40,50,60,70,80,90],"title":"IMA","titleX":-46,"titleY":97,"titleAngle":-90,"titleAlign":"center","titleBaseline":"middle","domainWidth":2}},"y2":{"field":"y1"},
"color":{"field":"v","type":"quantitative","legend":null,"scale":{"clamp":true,"domain":[0,5],"range":["#000080","#0000af","#0000f2","#002cff","#0064ff","#0089c4","#00b093","#00d671","#00f54c","#1eff2a","#50ff0c","#89ff00","#c7ff00","#fffc00","#ffd000","#ff9c00","#ff6400","#ff2500","#e80000","#ad0000","#000000"]}},
"stroke":{"field":"v","type":"quantitative","legend":null,"scale":{"clamp":true,"domain":[0,5],"range":["#000080","#0000af","#0000f2","#002cff","#0064ff","#0089c4","#00b093","#00d671","#00f54c","#1eff2a","#50ff0c","#89ff00","#c7ff00","#fffc00","#ffd000","#ff9c00","#ff6400","#ff2500","#e80000","#ad0000","#000000"]}}}},
{"data":{"name":"mirror"},"mark":{"type":"point","opacity":0},"encoding":{"x":{"field":"t","type":"quantitative","scale":{"domain":[4.432,15.333],"nice":false,"zero":false},"axis":{"orient":"top","values":[],"title":null,"labels":false}},"y":{"field":"y","type":"quantitative","scale":{"domain":[0,96],"nice":false},"axis":{"orient":"right","values":[0,10,20,30,40,50,60,70,80,90],"title":null,"labels":false}}}}]},
{"width":56,"height":194,"data":{"name":"bar5"},"mark":{"type":"rect","strokeWidth":0.4},"view":{"stroke":"#999"},"encoding":{"y":{"field":"a","type":"quantitative","scale":{"domain":[0,5],"nice":false,"zero":false},"axis":{"orient":"right","values":[0,1,2,3,4,5],"title":null,"ticks":false,"domain":false,"labelPadding":10}},"y2":{"field":"b"},
"color":{"field":"b","type":"quantitative","legend":null,"scale":{"clamp":true,"domain":[0,5],"range":["#000080","#0000af","#0000f2","#002cff","#0064ff","#0089c4","#00b093","#00d671","#00f54c","#1eff2a","#50ff0c","#89ff00","#c7ff00","#fffc00","#ffd000","#ff9c00","#ff6400","#ff2500","#e80000","#ad0000","#000000"]}},
"stroke":{"field":"b","type":"quantitative","legend":null,"scale":{"clamp":true,"domain":[0,5],"range":["#000080","#0000af","#0000f2","#002cff","#0064ff","#0089c4","#00b093","#00d671","#00f54c","#1eff2a","#50ff0c","#89ff00","#c7ff00","#fffc00","#ffd000","#ff9c00","#ff6400","#ff2500","#e80000","#ad0000","#000000"]}}}},
{"width":744,"height":194,"resolve":{"axis":{"x":"independent","y":"independent"}},"layer":[
{"data":{"name":"els"},"transform":[{"lookup":"c","from":{"data":{"name":"elsC"},"key":"c","fields":["t0","t1"]}},{"lookup":"b","from":{"data":{"name":"elsB"},"key":"b","fields":["y0","y1"]}}],"mark":{"type":"rect","strokeWidth":0.4},"encoding":{
"x":{"field":"t0","type":"quantitative","scale":{"domain":[4.432,15.333],"nice":false,"zero":false},"axis":{"orient":"bottom","values":[6,8,10,12,14],"title":null,"labelExpr":"(datum.value<10?'0':'')+datum.value+':00'"}},"x2":{"field":"t1"},
"y":{"field":"y0","type":"quantitative","scale":{"domain":[0,128.6],"nice":false},"axis":{"orient":"left","values":[0,20,40,60,80,100,120],"title":"ELS","titleX":-58,"titleY":97,"titleAngle":-90,"titleAlign":"center","titleBaseline":"middle","domainWidth":2}},"y2":{"field":"y1"},
"opacity":{"condition":[{"test":"datum.v<0.25","value":0.3},{"test":"datum.v<0.4","value":0.6}],"value":1},
"color":{"field":"v","type":"quantitative","legend":null,"scale":{"clamp":true,"domain":[0,5],"range":["#000080","#0000af","#0000f2","#002cff","#0064ff","#0089c4","#00b093","#00d671","#00f54c","#1eff2a","#50ff0c","#89ff00","#c7ff00","#fffc00","#ffd000","#ff9c00","#ff6400","#ff2500","#e80000","#ad0000","#000000"]}},
"stroke":{"field":"v","type":"quantitative","legend":null,"scale":{"clamp":true,"domain":[0,5],"range":["#000080","#0000af","#0000f2","#002cff","#0064ff","#0089c4","#00b093","#00d671","#00f54c","#1eff2a","#50ff0c","#89ff00","#c7ff00","#fffc00","#ffd000","#ff9c00","#ff6400","#ff2500","#e80000","#ad0000","#000000"]}}}},
{"data":{"name":"specks"},"mark":{"type":"point","filled":true,"shape":"square","size":2,"color":"#3040f0","opacity":0.6},"encoding":{"x":{"field":"t","type":"quantitative","scale":{"domain":[4.432,15.333],"nice":false,"zero":false},"axis":null},"y":{"field":"y","type":"quantitative","scale":{"domain":[0,128.6],"nice":false},"axis":null}}},
{"data":{"name":"mirror"},"mark":{"type":"point","opacity":0},"encoding":{"x":{"field":"t","type":"quantitative","scale":{"domain":[4.432,15.333],"nice":false,"zero":false},"axis":{"orient":"top","values":[6,8,10,12,14],"title":null,"labels":false}},"y":{"field":"y","type":"quantitative","scale":{"domain":[0,128.6],"nice":false},"axis":{"orient":"right","values":[0,20,40,60,80,100,120],"title":null,"labels":false}}}}]},
{"width":56,"height":194,"data":{"name":"bar5"},"mark":{"type":"rect","strokeWidth":0.4},"view":{"stroke":"#999"},"encoding":{"y":{"field":"a","type":"quantitative","scale":{"domain":[0,5],"nice":false,"zero":false},"axis":{"orient":"right","values":[0,1,2,3,4,5],"title":null,"ticks":false,"domain":false,"labelPadding":10}},"y2":{"field":"b"},
"color":{"field":"b","type":"quantitative","legend":null,"scale":{"clamp":true,"domain":[0,5],"range":["#000080","#0000af","#0000f2","#002cff","#0064ff","#0089c4","#00b093","#00d671","#00f54c","#1eff2a","#50ff0c","#89ff00","#c7ff00","#fffc00","#ffd000","#ff9c00","#ff6400","#ff2500","#e80000","#ad0000","#000000"]}},
"stroke":{"field":"b","type":"quantitative","legend":null,"scale":{"clamp":true,"domain":[0,5],"range":["#000080","#0000af","#0000f2","#002cff","#0064ff","#0089c4","#00b093","#00d671","#00f54c","#1eff2a","#50ff0c","#89ff00","#c7ff00","#fffc00","#ffd000","#ff9c00","#ff6400","#ff2500","#e80000","#ad0000","#000000"]}}}}
]}
